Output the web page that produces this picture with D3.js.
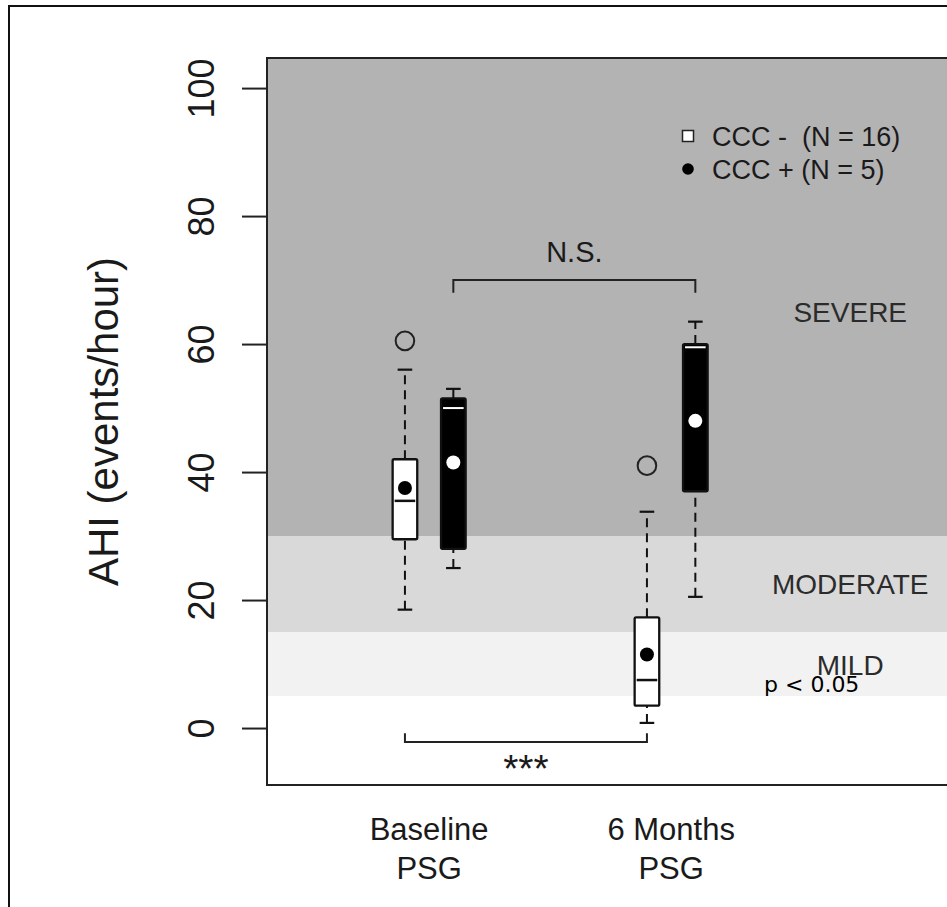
<!DOCTYPE html>
<html>
<head>
<meta charset="utf-8">
<script src="https://cdn.jsdelivr.net/npm/d3@7"></script>
<style>
  html, body { margin: 0; padding: 0; background: #fff; }
  svg { display: block; }
  text { font-family: "Liberation Sans", Arial, Helvetica, sans-serif; }
</style>
</head>
<body>
<svg id="chart" width="947" height="907"></svg>
<script>
// ---------------- data ----------------
const categories = ["Baseline PSG", "6 Months PSG"];
const categoryLines = [["Baseline", "PSG"], ["6 Months", "PSG"]];
const groups = ["CCC -", "CCC +"];
const groupN = [16, 5];
// positions of boxes on the x axis (category index + group offset)
const positions = [1, 1.2, 2, 2.2];
const boxCategory = [0, 0, 1, 1];
const boxGroup = [0, 1, 0, 1];
// box statistics (AHI, events/hour)
const whiskerLow  = [18.5, 25.0, 0.8, 20.5];
const q1          = [29.5, 28.0, 3.5, 37.0];
const median      = [35.5, 50.0, 7.5, 59.5];
const q3          = [42.0, 51.5, 17.3, 60.0];
const whiskerHigh = [56.0, 53.0, 33.8, 63.5];
const means       = [37.5, 41.5, 11.5, 48.0];
const outliers    = [[60.5], [], [41.0], []];
// severity bands
const bandNames = ["SEVERE", "MODERATE", "MILD"];
const bandLow   = [30, 15, 5];
const bandHigh  = [104.7, 30, 15];
const bandLabelY = [65, 22.5, 9.7];
const bandLabelX = 2.84;
const yTicks = [0, 20, 40, 60, 80, 100];
const yDomain = [-8.9, 104.7];
const xDomain = [0.43, 3.4];

// ---------------- layout ----------------
const svg = d3.select("#chart");
const plot = { left: 267, top: 58, bottom: 785 };
const x = d3.scaleLinear().domain(xDomain).range([plot.left, plot.left + (xDomain[1] - xDomain[0]) * 242]);
const y = d3.scaleLinear().domain(yDomain).range([plot.bottom, plot.top]);
const plotRight = x(xDomain[1]);

function addText(parent, tx, ty, str, o) {
  const rot = o.rotate ? ` rotate(${o.rotate})` : "";
  const t = parent.append("text")
    .attr("transform", `translate(${tx},${ty})${rot}`)
    .attr("text-anchor", o.anchor || "middle")
    .attr("font-size", o.size)
    .attr("fill", o.fill || "#1a1a1a")
    .text(str);
  if (o.baseline) t.attr("dominant-baseline", o.baseline);
  if (o.family) t.style("font-family", o.family);
  if (o.pre) t.style("white-space", "pre");
  return t;
}

// outer frame
svg.append("rect").attr("x", 9).attr("y", 6).attr("width", 1200).attr("height", 1200)
  .attr("fill", "none").attr("stroke", "#111").attr("stroke-width", 2);

// bands
const bandFill = ["#b3b3b3", "#d9d9d9", "#f2f2f2"];
svg.append("rect").attr("x", plot.left).attr("y", plot.top)
  .attr("width", plotRight - plot.left).attr("height", plot.bottom - plot.top).attr("fill", "#ffffff");
bandNames.forEach((b, i) => {
  svg.append("rect")
    .attr("x", plot.left).attr("width", plotRight - plot.left)
    .attr("y", y(bandHigh[i])).attr("height", y(bandLow[i]) - y(bandHigh[i]))
    .attr("fill", bandFill[i]);
});
bandNames.forEach((b, i) => {
  addText(svg, x(bandLabelX), y(bandLabelY[i]), b,
    { size: 28, baseline: "central", fill: "#2b2b2b" });
});

// plot border
svg.append("rect").attr("x", plot.left).attr("y", plot.top)
  .attr("width", plotRight - plot.left).attr("height", plot.bottom - plot.top)
  .attr("fill", "none").attr("stroke", "#222").attr("stroke-width", 2);

// y axis
const yAxis = d3.axisLeft(y).tickValues(yTicks).tickSize(25).tickPadding(0).tickFormat(d3.format("d"));
const gy = svg.append("g").attr("transform", `translate(${plot.left},0)`).call(yAxis);
gy.select(".domain").remove();
gy.selectAll(".tick line").attr("stroke", "#222").attr("stroke-width", 2);
gy.selectAll(".tick text").remove();
gy.selectAll(".tick").each(function (d) {
  addText(d3.select(this), -66, 0, String(d), { size: 36, rotate: -90, baseline: "central" });
});

// y label
addText(svg, 118, (plot.top + plot.bottom) / 2, "AHI (events/hour)", { size: 42, rotate: -90 });

// x labels, centred between the paired boxes
categoryLines.forEach((lines, i) => {
  const cx = x(d3.mean(positions.filter((p, j) => boxCategory[j] === i)));
  lines.forEach((ln, j) => {
    addText(svg, cx, 840 + j * 39, ln, { size: 31 });
  });
});

// boxes
const halfW = 12.3, capHalf = 7.3;
positions.forEach((p, i) => {
  const cx = x(p);
  const dark = boxGroup[i] === 1;
  const g = svg.append("g");
  [[whiskerLow[i], q1[i]], [q3[i], whiskerHigh[i]]].forEach(([a, b]) => {
    g.append("line").attr("x1", cx).attr("x2", cx).attr("y1", y(a)).attr("y2", y(b))
      .attr("stroke", "#111").attr("stroke-width", 2).attr("stroke-dasharray", "9,6");
  });
  [whiskerLow[i], whiskerHigh[i]].forEach(v => {
    g.append("line").attr("x1", cx - capHalf).attr("x2", cx + capHalf).attr("y1", y(v)).attr("y2", y(v))
      .attr("stroke", "#111").attr("stroke-width", 2.2);
  });
  g.append("rect").attr("x", cx - halfW).attr("width", halfW * 2)
    .attr("y", y(q3[i])).attr("height", y(q1[i]) - y(q3[i]))
    .attr("fill", dark ? "#000" : "#fff").attr("stroke", "#111").attr("stroke-width", 2.3).attr("rx", 1.5);
  g.append("line").attr("x1", cx - halfW + 2).attr("x2", cx + halfW - 2)
    .attr("y1", y(median[i])).attr("y2", y(median[i]))
    .attr("stroke", dark ? "#fff" : "#111").attr("stroke-width", dark ? 2 : 2.5);
  g.append("circle").attr("cx", cx).attr("cy", y(means[i])).attr("r", 7)
    .attr("fill", dark ? "#fff" : "#000");
  outliers[i].forEach(v => {
    g.append("circle").attr("cx", cx).attr("cy", y(v)).attr("r", 9.3)
      .attr("fill", "none").attr("stroke", "#222").attr("stroke-width", 2);
  });
});

// N.S. bracket between CCC+ boxes
const nsY = 70, nsTick = 68;
svg.append("path")
  .attr("d", `M${x(positions[1])},${y(nsTick)} V${y(nsY)} H${x(positions[3])} V${y(nsTick)}`)
  .attr("fill", "none").attr("stroke", "#222").attr("stroke-width", 2);
addText(svg, (x(positions[1]) + x(positions[3])) / 2, y(nsY) - 18, "N.S.", { size: 29 });

// *** bracket between CCC- boxes
const stY = -2.2, stTick = -0.8;
svg.append("path")
  .attr("d", `M${x(positions[0])},${y(stTick)} V${y(stY)} H${x(positions[2])} V${y(stTick)}`)
  .attr("fill", "none").attr("stroke", "#222").attr("stroke-width", 2);
addText(svg, (x(positions[0]) + x(positions[2])) / 2, y(stY) + 40, "***", { size: 39 });

// legend
const legX = 688, legY = [136, 169];
svg.append("rect").attr("x", legX - 5.5).attr("y", legY[0] - 5.5).attr("width", 11).attr("height", 11)
  .attr("fill", "#fff").attr("stroke", "#222").attr("stroke-width", 1.5);
svg.append("circle").attr("cx", legX).attr("cy", legY[1]).attr("r", 5.8).attr("fill", "#000");
groups.forEach((gname, i) => {
  const label = i === 0 ? `${gname}  (N = ${groupN[i]})` : `${gname} (N = ${groupN[i]})`;
  addText(svg, legX + 24, legY[i] + 1, label, { size: 27, anchor: "start", baseline: "central", pre: true });
});

// p value annotation
addText(svg, 764, 692, "p < 0.05", { size: 22, anchor: "start", fill: "#000", family: "'DejaVu Sans', sans-serif" });
</script>
</body>
</html>
